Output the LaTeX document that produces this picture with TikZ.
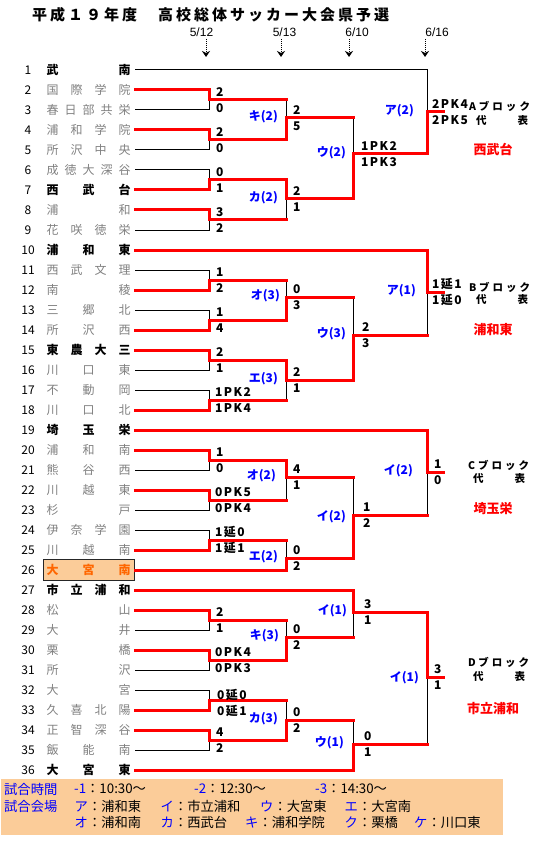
\documentclass[tikz,border=0pt]{standalone}
\usepackage{fontspec}
\setmainfont{Noto Sans CJK JP}
\newfontfamily\datefont{Liberation Sans}
\newfontfamily\scorefont{Noto Sans CJK JP}[LetterSpace=12]
\newfontfamily\titlefont{Noto Sans CJK JP}[LetterSpace=20]
\usetikzlibrary{arrows.meta}
\definecolor{wred}{RGB}{255,0,0}
\definecolor{wblue}{RGB}{0,0,255}
\definecolor{tgrey}{RGB}{128,128,128}
\definecolor{peach}{RGB}{251,204,153}
\definecolor{orng}{RGB}{255,102,0}
\tikzset{
  bl/.style={line width=1pt, black},
  rd/.style={line width=3pt, wred, line cap=rect, line join=miter},
  team/.style={font=\fontsize{12}{12}\selectfont, text=tgrey, inner sep=0pt},
  seed/.style={font=\fontsize{12}{12}\selectfont\bfseries, text=black, inner sep=0pt},
  hilite/.style={font=\fontsize{12}{12}\selectfont\bfseries, text=orng, fill=peach, draw=black!85, line width=1pt, inner xsep=3.5pt, inner ysep=0pt, minimum height=21pt},
  num/.style={font=\fontsize{12}{12}\selectfont, inner sep=0pt},
  score/.style={font=\scorefont\fontsize{12}{12}\selectfont\bfseries, anchor=west, inner sep=0pt},
  lbl/.style={font=\fontsize{12}{12}\selectfont\bfseries, text=wblue, anchor=east, inner sep=0pt},
  blk/.style={font=\fontsize{10.5}{10.5}\selectfont\bfseries, inner sep=0pt},
  win/.style={font=\fontsize{13}{13}\selectfont\bfseries, text=wred, inner sep=0pt},
  datelbl/.style={font=\datefont\fontsize{12}{12}\selectfont, inner sep=0pt},
  arr/.style={densely dotted, line width=1pt, -{Stealth[length=6pt,width=8pt]}},
  leg/.style={font=\fontsize{13.3}{13.3}\selectfont, anchor=west, inner sep=0pt},
}
\newcommand{\defM}[5]{\coordinate (#1u) at (#2,#3);\coordinate (#1l) at (#2,#4);\coordinate (#1m) at (#2,#5);}
\newcommand{\team}[3]{%
  \node[#3] (n#1) at (88.5,{70+20*(#1-1)}) {\makebox[84pt][s]{#2}};
  \node[num] (k#1) at (28,{70+20*(#1-1)}) {#1};
  \coordinate (s#1) at (135,{70+20*(#1-1)});}
\newcommand{\scr}[5]{\node[score] (#1su) at ({#2},{#3-8}) {#4};\node[score] (#1sl) at ({#2},{#3+8}) {#5};}
\newcommand{\jlab}[4]{\node[lbl] (#1lb) at ({#2},{#3-1}) {#4};}
\begin{document}
\begin{tikzpicture}[x=1pt,y=-1pt]
\path[use as bounding box] (0,0) rectangle (537,842);
% title
\node[font=\titlefont\fontsize{15}{15}\selectfont\bfseries, anchor=west, inner sep=0pt] (title) at (32,15) {平成１９年度　高校総体サッカー大会県予選};
% dates
\node[datelbl] (dt1) at (201.5,32) {5/12};
\node[datelbl] (dt2) at (284.5,32) {5/13};
\node[datelbl] (dt3) at (357,32) {6/10};
\node[datelbl] (dt4) at (437,32) {6/16};
\coordinate (ar1t) at (206,39); \coordinate (ar1b) at (206,57);
\coordinate (ar2t) at (281,39); \coordinate (ar2b) at (281,57);
\coordinate (ar3t) at (349,39); \coordinate (ar3b) at (349,57);
\coordinate (ar4t) at (425,39); \coordinate (ar4b) at (425,57);
\draw[arr] (ar1t) -- (ar1b);
\draw[arr] (ar2t) -- (ar2b);
\draw[arr] (ar3t) -- (ar3b);
\draw[arr] (ar4t) -- (ar4b);
% teams
\team{1}{武\hfill 南}{seed}
\team{2}{国\hfill 際\hfill 学\hfill 院}{team}
\team{3}{春\hfill 日\hfill 部\hfill 共\hfill 栄}{team}
\team{4}{浦\hfill 和\hfill 学\hfill 院}{team}
\team{5}{所\hfill 沢\hfill 中\hfill 央}{team}
\team{6}{成\hfill 徳\hfill 大\hfill 深\hfill 谷}{team}
\team{7}{西\hfill 武\hfill 台}{seed}
\team{8}{浦\hfill 和}{team}
\team{9}{花\hfill 咲\hfill 徳\hfill 栄}{team}
\team{10}{浦\hfill 和\hfill 東}{seed}
\team{11}{西\hfill 武\hfill 文\hfill 理}{team}
\team{12}{南\hfill 稜}{team}
\team{13}{三\hfill 郷\hfill 北}{team}
\team{14}{所\hfill 沢\hfill 西}{team}
\team{15}{東\hfill 農\hfill 大\hfill 三}{seed}
\team{16}{川\hfill 口\hfill 東}{team}
\team{17}{不\hfill 動\hfill 岡}{team}
\team{18}{川\hfill 口\hfill 北}{team}
\team{19}{埼\hfill 玉\hfill 栄}{seed}
\team{20}{浦\hfill 和\hfill 南}{team}
\team{21}{熊\hfill 谷\hfill 西}{team}
\team{22}{川\hfill 越\hfill 東}{team}
\team{23}{杉\hfill 戸}{team}
\team{24}{伊\hfill 奈\hfill 学\hfill 園}{team}
\team{25}{川\hfill 越\hfill 南}{team}
\team{26}{大\hfill 宮\hfill 南}{hilite}
\team{27}{市\hfill 立\hfill 浦\hfill 和}{seed}
\team{28}{松\hfill 山}{team}
\team{29}{大\hfill 井}{team}
\team{30}{栗\hfill 橋}{team}
\team{31}{所\hfill 沢}{team}
\team{32}{大\hfill 宮}{team}
\team{33}{久\hfill 喜\hfill 北\hfill 陽}{team}
\team{34}{正\hfill 智\hfill 深\hfill 谷}{team}
\team{35}{飯\hfill 能\hfill 南}{team}
\team{36}{大\hfill 宮\hfill 東}{seed}
% match junctions
\defM{a1}{209}{90}{110}{100}
\defM{a2}{209}{130}{150}{140}
\defM{a3}{209}{170}{190}{180}
\defM{a4}{209}{210}{230}{220}
\defM{a5}{286}{100}{140}{118}
\defM{a6}{286}{180}{220}{199}
\defM{a7}{353}{118}{199}{154}
\defM{a8}{427}{70}{154}{112}
\coordinate (aend) at (443,112);
\defM{b1}{209}{270}{290}{280}
\defM{b2}{209}{310}{330}{320}
\defM{b3}{209}{350}{370}{360}
\defM{b4}{209}{390}{410}{400}
\defM{b5}{286}{280}{320}{297}
\defM{b6}{286}{360}{400}{380}
\defM{b7}{353}{297}{380}{335}
\defM{b8}{427}{250}{335}{292}
\coordinate (bend) at (443,292);
\defM{c1}{209}{450}{470}{460}
\defM{c2}{209}{490}{510}{500}
\defM{c3}{209}{530}{550}{540}
\defM{c5}{286}{460}{500}{477}
\defM{c6}{286}{540}{570}{558}
\defM{c7}{353}{477}{558}{515}
\defM{c8}{427}{430}{515}{472}
\coordinate (cend) at (443,472);
\defM{d1}{209}{610}{630}{620}
\defM{d2}{209}{650}{670}{660}
\defM{d3}{209}{690}{710}{700}
\defM{d4}{209}{730}{750}{740}
\defM{d5}{286}{620}{660}{637}
\defM{d6}{286}{700}{740}{720}
\defM{d7}{353}{590}{637}{612}
\defM{d9}{353}{720}{770}{744}
\defM{d8}{427}{612}{744}{677}
\coordinate (dend) at (443,677);
% black (losing) lines
\draw[bl] (s1) -- (a8u) -- (a8m);
\draw[bl] (s3) -- (a1l) -- (a1m);
\draw[bl] (s5) -- (a2l) -- (a2m);
\draw[bl] (s6) -- (a3u) -- (a3m);
\draw[bl] (s9) -- (a4l) -- (a4m);
\draw[bl] (a5u) -- (a5m);
\draw[bl] (a6l) -- (a6m);
\draw[bl] (a7u) -- (a7m);
\draw[bl] (s11) -- (b1u) -- (b1m);
\draw[bl] (s13) -- (b2u) -- (b2m);
\draw[bl] (s16) -- (b3l) -- (b3m);
\draw[bl] (s17) -- (b4u) -- (b4m);
\draw[bl] (b5u) -- (b5m);
\draw[bl] (b6l) -- (b6m);
\draw[bl] (b7u) -- (b7m);
\draw[bl] (b8l) -- (b8m);
\draw[bl] (s21) -- (c1l) -- (c1m);
\draw[bl] (s23) -- (c2l) -- (c2m);
\draw[bl] (s24) -- (c3u) -- (c3m);
\draw[bl] (c5l) -- (c5m);
\draw[bl] (c6u) -- (c6m);
\draw[bl] (c7u) -- (c7m);
\draw[bl] (c8l) -- (c8m);
\draw[bl] (s29) -- (d1l) -- (d1m);
\draw[bl] (s31) -- (d2l) -- (d2m);
\draw[bl] (s32) -- (d3u) -- (d3m);
\draw[bl] (s35) -- (d4l) -- (d4m);
\draw[bl] (d5u) -- (d5m);
\draw[bl] (d6u) -- (d6m);
\draw[bl] (d7l) -- (d7m);
\draw[bl] (d9u) -- (d9m);
\draw[bl] (d8l) -- (d8m);
% red (winning) lines
\draw[rd] (s2) -- (a1u) -- (a1m) -- (a5u);
\draw[rd] (s4) -- (a2u) -- (a2m) -- (a5l);
\draw[rd] (s7) -- (a3l) -- (a3m) -- (a6u);
\draw[rd] (s8) -- (a4u) -- (a4m) -- (a6l);
\draw[rd] (a5l) -- (a5m) -- (a7u);
\draw[rd] (a6u) -- (a6m) -- (a7l);
\draw[rd] (a7l) -- (a7m) -- (a8l);
\draw[rd] (a8l) -- (a8m) -- (aend);
\draw[rd] (s12) -- (b1l) -- (b1m) -- (b5u);
\draw[rd] (s14) -- (b2l) -- (b2m) -- (b5l);
\draw[rd] (s15) -- (b3u) -- (b3m) -- (b6u);
\draw[rd] (s18) -- (b4l) -- (b4m) -- (b6l);
\draw[rd] (b5l) -- (b5m) -- (b7u);
\draw[rd] (b6u) -- (b6m) -- (b7l);
\draw[rd] (b7l) -- (b7m) -- (b8l);
\draw[rd] (s10) -- (b8u) -- (b8m) -- (bend);
\draw[rd] (s20) -- (c1u) -- (c1m) -- (c5u);
\draw[rd] (s22) -- (c2u) -- (c2m) -- (c5l);
\draw[rd] (s25) -- (c3l) -- (c3m) -- (c6u);
\draw[rd] (s26) -- (c6l) -- (c6m) -- (c7l);
\draw[rd] (c5u) -- (c5m) -- (c7u);
\draw[rd] (c7l) -- (c7m) -- (c8l);
\draw[rd] (s19) -- (c8u) -- (c8m) -- (cend);
\draw[rd] (s28) -- (d1u) -- (d1m) -- (d5u);
\draw[rd] (s30) -- (d2u) -- (d2m) -- (d5l);
\draw[rd] (s33) -- (d3l) -- (d3m) -- (d6u);
\draw[rd] (s34) -- (d4u) -- (d4m) -- (d6l);
\draw[rd] (d5l) -- (d5m) -- (d7l);
\draw[rd] (d6l) -- (d6m) -- (d9u);
\draw[rd] (s27) -- (d7u) -- (d7m) -- (d8u);
\draw[rd] (s36) -- (d9l) -- (d9m) -- (d8l);
\draw[rd] (d8u) -- (d8m) -- (dend);
% scores
\scr{a1}{216}{100}{2}{0}
\scr{a2}{216}{140}{2}{0}
\scr{a3}{216}{180}{0}{1}
\scr{a4}{216}{220}{3}{2}
\scr{a5}{293}{118}{2}{5}
\scr{a6}{293}{199}{2}{1}
\scr{a7}{361}{154}{1PK2}{1PK3}
\scr{a8}{432}{112}{2PK4}{2PK5}
\scr{b1}{216}{280}{1}{2}
\scr{b2}{216}{320}{1}{4}
\scr{b3}{216}{360}{2}{1}
\scr{b4}{215}{400}{1PK2}{1PK4}
\scr{b5}{293}{297}{0}{3}
\scr{b6}{293}{380}{2}{1}
\scr{b7}{362}{335}{2}{3}
\scr{b8}{432}{292}{1延1}{1延0}
\scr{c1}{216}{460}{1}{0}
\scr{c2}{215}{500}{0PK5}{0PK4}
\scr{c3}{215}{540}{1延0}{1延1}
\scr{c5}{293}{477}{4}{1}
\scr{c6}{293}{558}{0}{2}
\scr{c7}{363}{515}{1}{2}
\scr{c8}{434}{472}{1}{0}
\scr{d1}{216}{620}{2}{1}
\scr{d2}{215}{660}{0PK4}{0PK3}
\scr{d3}{217}{703}{0延0}{0延1}
\scr{d4}{216}{740}{4}{2}
\scr{d5}{293}{637}{0}{2}
\scr{d6}{293}{720}{0}{2}
\scr{d7}{364}{612}{3}{1}
\scr{d9}{364}{744}{0}{1}
\scr{d8}{434}{677}{3}{1}
% venue labels
\jlab{a5}{278}{118}{キ(2)}
\jlab{a6}{278}{199}{カ(2)}
\jlab{a7}{346}{154}{ウ(2)}
\jlab{a8}{414}{112}{ア(2)}
\jlab{b5}{280}{297}{オ(3)}
\jlab{b6}{278}{380}{エ(3)}
\jlab{b7}{346}{335}{ウ(3)}
\jlab{b8}{416}{292}{ア(1)}
\jlab{c5}{276}{477}{オ(2)}
\jlab{c6}{278}{558}{エ(2)}
\jlab{c7}{346}{518}{イ(2)}
\jlab{c8}{413}{472}{イ(2)}
\jlab{d5}{279}{637}{キ(3)}
\jlab{d6}{278}{720}{カ(3)}
\jlab{d7}{347}{612}{イ(1)}
\jlab{d9}{344}{744}{ウ(1)}
\jlab{d8}{419}{679}{イ(1)}
% block results
\node[blk] (ablk) at (499.5,106) {\makebox[61pt][s]{A\hfill ブ\hfill ロ\hfill ッ\hfill ク}};
\node[blk] (adai) at (502,121) {\makebox[52pt][s]{代\hfill 表}};
\node[win] (awin) at (493,150) {西武台};
\node[blk] (bblk) at (499.5,287) {\makebox[61pt][s]{B\hfill ブ\hfill ロ\hfill ッ\hfill ク}};
\node[blk] (bdai) at (502,300) {\makebox[52pt][s]{代\hfill 表}};
\node[win] (bwin) at (493,330) {浦和東};
\node[blk] (cblk) at (498.5,465) {\makebox[61pt][s]{C\hfill ブ\hfill ロ\hfill ッ\hfill ク}};
\node[blk] (cdai) at (499,479) {\makebox[52pt][s]{代\hfill 表}};
\node[win] (cwin) at (493,509) {埼玉栄};
\node[blk] (dblk) at (498.5,662) {\makebox[61pt][s]{D\hfill ブ\hfill ロ\hfill ッ\hfill ク}};
\node[blk] (ddai) at (499,677) {\makebox[52pt][s]{代\hfill 表}};
\node[win] (dwin) at (493,709) {市立浦和};
% legend
\fill[peach] (1,779) rectangle (503,835);
\node[leg, text=wblue] (lg1) at (4,789) {試合時間};
\node[leg] (lg2) at (74,789) {{\color{wblue}-1}：10:30〜};
\node[leg] (lg3) at (194,789) {{\color{wblue}-2}：12:30〜};
\node[leg] (lg4) at (315,789) {{\color{wblue}-3}：14:30〜};
\node[leg, text=wblue] (lg5) at (4,806) {試合会場};
\node[leg] (lg6) at (74.5,806) {{\color{wblue}ア}：浦和東};
\node[leg] (lg7) at (160.5,806) {{\color{wblue}イ}：市立浦和};
\node[leg] (lg8) at (260,806) {{\color{wblue}ウ}：大宮東};
\node[leg] (lg9) at (344.5,806) {{\color{wblue}エ}：大宮南};
\node[leg] (lg10) at (74.5,822) {{\color{wblue}オ}：浦和南};
\node[leg] (lg11) at (160.5,822) {{\color{wblue}カ}：西武台};
\node[leg] (lg12) at (245,822) {{\color{wblue}キ}：浦和学院};
\node[leg] (lg13) at (344.5,822) {{\color{wblue}ク}：栗橋};
\node[leg] (lg14) at (414,822) {{\color{wblue}ケ}：川口東};
\end{tikzpicture}
\end{document}
